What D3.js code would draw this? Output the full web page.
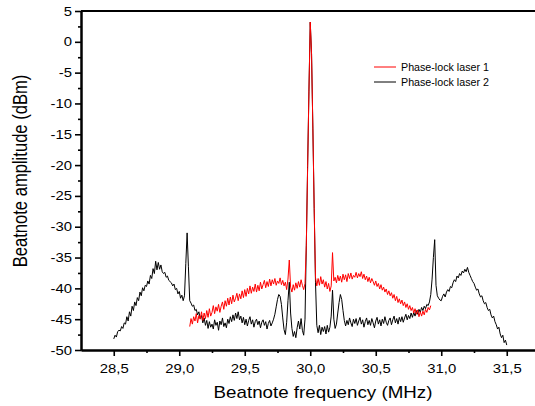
<!DOCTYPE html>
<html><head><meta charset="utf-8">
<script src="https://cdn.jsdelivr.net/npm/d3@7"></script>
<style>
body{margin:0;background:#fff;}
svg{display:block;}
text{font-family:"Liberation Sans",Arial,sans-serif;fill:#000;}
</style>
</head><body>
<svg id="chart" width="535" height="406"></svg>
<script>
// ---------- data ----------
const freqStep = 0.01;                 // MHz between samples
const laser2Start = 28.50;             // first frequency of laser 2 trace
const laser2 = [
 -48.2,-47.6,-47.9,-47.0,-46.8,-46.9,-46.2,-46.5,-45.6,-45.8,
 -44.6,-45.3,-43.8,-44.5,-42.9,-43.6,-42.2,-42.8,-41.5,-42.0,
 -40.6,-41.2,-39.9,-40.4,-39.5,-39.7,-38.8,-39.3,-37.9,-38.4,
 -36.8,-37.6,-35.6,-37.0,-35.8,-36.9,-36.2,-37.3,-37.6,-37.4,
 -38.2,-38.0,-38.7,-38.9,-39.1,-39.6,-39.3,-40.2,-40.0,-40.9,
 -40.5,-41.6,-41.1,-42.0,-41.2,-36.0,-31.0,-36.5,-42.0,-42.4,
 -42.9,-42.7,-43.6,-43.4,-44.3,-43.8,-44.9,-44.4,-45.6,-44.8,
 -46.0,-45.2,-46.5,-45.4,-46.3,-45.8,-46.6,-45.1,-46.0,-45.5,
 -46.8,-45.3,-45.9,-44.8,-46.2,-45.6,-46.4,-45.0,-45.7,-44.6,
 -45.4,-44.3,-45.2,-44.0,-44.9,-43.8,-45.1,-44.5,-45.6,-44.7,
 -45.9,-45.0,-46.1,-45.2,-44.6,-45.8,-45.1,-46.3,-45.4,-45.0,
 -45.9,-45.3,-46.4,-45.5,-45.1,-46.0,-45.4,-46.6,-45.7,-45.2,
 -46.1,-45.6,-45.0,-44.2,-43.0,-41.8,-41.0,-41.3,-42.6,-44.8,
 -46.7,-47.5,-45.5,-42.0,-39.0,-44.0,-46.5,-47.8,-47.0,-48.0,
 -46.4,-45.3,-46.6,-44.9,-46.8,-47.6,-45.0,-33.0,-20.0,-8.0,
 3.2,-2.0,-14.0,-27.0,-39.0,-46.0,-47.2,-46.0,-47.5,-46.3,
 -47.0,-46.2,-47.4,-46.0,-47.1,-46.3,-44.5,-40.3,-45.0,-46.5,
 -45.8,-44.0,-42.3,-41.0,-41.8,-43.6,-45.2,-46.1,-45.2,-45.9,
 -44.8,-45.6,-46.2,-45.0,-45.7,-44.9,-46.0,-45.3,-44.7,-45.8,
 -45.1,-46.3,-45.4,-44.8,-45.9,-45.2,-46.0,-44.9,-45.6,-46.4,
 -45.3,-44.7,-45.8,-45.1,-46.1,-45.0,-45.7,-44.6,-45.5,-46.0,
 -45.2,-44.8,-45.9,-45.1,-44.5,-45.6,-44.9,-45.8,-44.7,-45.4,
 -44.6,-45.5,-44.8,-44.2,-45.1,-44.4,-44.9,-44.0,-44.7,-43.9,
 -44.5,-43.6,-44.2,-43.4,-43.9,-43.1,-43.6,-42.9,-43.3,-42.6,
 -42.8,-42.2,-41.0,-38.5,-35.0,-32.1,-39.5,-41.2,-41.6,-41.9,
 -42.0,-41.3,-40.9,-41.4,-40.6,-40.2,-40.5,-39.7,-39.9,-39.1,
 -38.6,-38.9,-38.0,-38.3,-37.6,-37.9,-37.2,-37.5,-36.9,-37.3,
 -36.6,-37.4,-37.9,-38.4,-38.9,-39.2,-39.8,-40.3,-40.1,-40.9,
 -41.4,-41.2,-42.0,-42.5,-42.3,-43.1,-43.6,-43.4,-44.3,-44.8,
 -44.5,-45.4,-45.9,-46.6,-46.3,-47.4,-48.0,-47.6,-48.8,-48.4,
 -49.2
];
const laser1Start = 29.08;             // first frequency of laser 1 trace
const laser1 = [
 -46.2,-44.9,
 -45.8,-44.6,-45.3,-44.1,-45.6,-44.4,-45.0,-43.8,-45.2,-44.0,
 -44.9,-43.6,-44.7,-43.3,-44.5,-43.9,-42.8,-44.1,-43.0,-43.7,
 -42.6,-43.9,-42.9,-42.2,-43.4,-42.0,-42.9,-41.6,-42.7,-41.4,
 -42.5,-41.1,-42.2,-41.6,-40.8,-42.0,-40.9,-41.7,-40.4,-41.5,
 -40.2,-41.3,-40.0,-40.9,-39.6,-40.8,-39.8,-40.5,-39.3,-40.6,
 -39.5,-40.4,-39.0,-40.1,-39.4,-38.7,-39.9,-38.9,-39.7,-38.5,
 -39.6,-38.6,-39.3,-38.4,-39.5,-38.8,-39.2,-38.3,-39.4,-38.7,
 -39.6,-39.0,-40.2,-38.5,-35.4,-39.8,-40.6,-39.4,-40.3,-39.1,
 -40.0,-38.9,-39.8,-38.6,-39.5,-40.2,-39.2,-33.0,-20.4,-7.8,
 3.2,-2.0,-14.0,-27.0,-38.2,-39.6,-38.4,-39.5,-38.1,-39.3,
 -38.6,-39.8,-38.9,-40.1,-39.2,-40.5,-39.6,-34.2,-38.8,-38.2,
 -39.1,-37.9,-38.8,-38.0,-39.0,-37.7,-38.6,-37.8,-38.9,-37.6,
 -38.4,-37.5,-38.5,-37.9,-38.2,-37.4,-38.3,-37.6,-38.1,-37.3,
 -38.4,-37.7,-38.6,-38.0,-38.9,-38.2,-39.1,-38.4,-38.9,-39.5,
 -38.8,-39.7,-39.2,-40.1,-39.4,-40.3,-39.8,-40.6,-40.1,-41.0,
 -40.4,-41.2,-40.7,-41.6,-41.0,-42.0,-41.3,-42.3,-41.7,-42.5,
 -41.9,-42.8,-42.2,-43.1,-42.5,-43.4,-42.8,-43.6,-43.1,-44.0,
 -43.3,-44.2,-43.5,-44.6,-43.8,-44.5,-43.7,-44.3,-43.4,-43.9,
 -43.1,-43.5,-42.8
];
const xTicks = [28.5, 29.0, 29.5, 30.0, 30.5, 31.0, 31.5];
const xTickLabels = ["28,5","29,0","29,5","30,0","30,5","31,0","31,5"];
const xMinorTicks = [28.75, 29.25, 29.75, 30.25, 30.75, 31.25];
const yTicks = [5, 0, -5, -10, -15, -20, -25, -30, -35, -40, -45, -50];
const yTickLabels = ["5","0","-5","-10","-15","-20","-25","-30","-35","-40","-45","-50"];
const yMinorTicks = [2.5,-2.5,-7.5,-12.5,-17.5,-22.5,-27.5,-32.5,-37.5,-42.5,-47.5];
const seriesNames = ["Phase-lock laser 1", "Phase-lock laser 2"];
const seriesColors = ["#ff0000", "#000000"];
const xTitle = "Beatnote frequency (MHz)";
const yTitle = "Beatnote amplitude (dBm)";

// ---------- drawing ----------
const svg = d3.select("#chart");
const plotLeft = 81, plotTop = 11, plotBottom = 350;
const x = d3.scaleLinear().domain([28.25, 31.75]).range([plotLeft, plotLeft + 3.5 * 131]);
const y = d3.scaleLinear().domain([-50, 5]).range([plotBottom, plotTop]);
const sx = 1.18; // horizontal stretch of the original typography

const line = start => d3.line()
  .x((d, i) => x(start + i * freqStep))
  .y(d => y(d));

// traces: laser 2 (black) below, laser 1 (red) on top
svg.append("path").datum(laser2).attr("d", line(laser2Start))
  .attr("fill", "none").attr("stroke", seriesColors[1]).attr("stroke-width", 1).attr("stroke-linejoin", "round");
svg.append("path").datum(laser1).attr("d", line(laser1Start))
  .attr("fill", "none").attr("stroke", seriesColors[0]).attr("stroke-width", 1).attr("stroke-linejoin", "round");

// x axis
svg.append("g").attr("transform", `translate(0,${plotBottom})`)
  .call(d3.axisBottom(x).tickValues(xMinorTicks).tickSize(3).tickSizeOuter(0).tickFormat(""));
const gxMaj = svg.append("g").attr("transform", `translate(0,${plotBottom})`)
  .call(d3.axisBottom(x).tickValues(xTicks).tickSize(6).tickSizeOuter(0).tickPadding(8)
    .tickFormat((d, i) => xTickLabels[i]));
gxMaj.selectAll("text").attr("font-size", 12.6).attr("font-family", "Liberation Sans, Arial, sans-serif")
  .attr("transform", `scale(${sx},1)`);

// y axis
svg.append("g").attr("transform", `translate(${plotLeft},0)`)
  .call(d3.axisLeft(y).tickValues(yMinorTicks).tickSize(3).tickSizeOuter(0).tickFormat(""));
const gyMaj = svg.append("g").attr("transform", `translate(${plotLeft},0)`)
  .call(d3.axisLeft(y).tickValues(yTicks).tickSize(6).tickSizeOuter(0).tickPadding(3)
    .tickFormat((d, i) => yTickLabels[i]));
gyMaj.selectAll("text").attr("font-size", 12.6).attr("font-family", "Liberation Sans, Arial, sans-serif")
  .attr("x", -9 / sx).attr("transform", `scale(${sx},1)`);

svg.selectAll(".domain").attr("stroke", "#000").attr("stroke-width", 2);
svg.selectAll(".tick line").attr("stroke", "#000").attr("stroke-width", 1.6);

// top frame line
svg.append("line").attr("x1", plotLeft).attr("x2", 535).attr("y1", plotTop).attr("y2", plotTop)
  .attr("stroke", "#000").attr("stroke-width", 2);

// axis titles
svg.append("text").attr("transform", `translate(323,398) scale(1.13,1)`)
  .attr("text-anchor", "middle").attr("font-size", 16.6).text(xTitle);
svg.append("text").attr("transform", `translate(27,171) rotate(-90) scale(1,1.18)`)
  .attr("text-anchor", "middle").attr("font-size", 16.6).text(yTitle);

// legend
const lg = svg.append("g").attr("transform", "translate(374,67)");
seriesNames.forEach((name, i) => {
  const row = lg.append("g").attr("transform", `translate(0,${i * 15})`);
  row.append("line").attr("x1", 0).attr("x2", 22).attr("y1", 0).attr("y2", 0)
    .attr("stroke", seriesColors[i]).attr("stroke-width", 1);
  row.append("text").attr("x", 27).attr("y", 0).attr("dy", "0.36em")
    .attr("font-size", 10.7).text(name);
});
</script>
</body></html>
